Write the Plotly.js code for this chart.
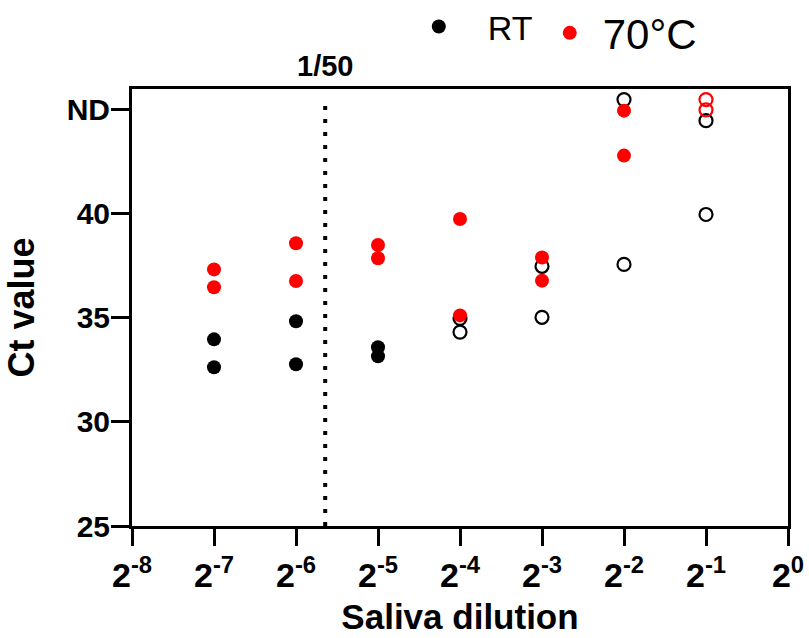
<!DOCTYPE html>
<html>
<head>
<meta charset="utf-8">
<script src="https://cdn.plot.ly/plotly-3.0.1.min.js"></script>
<style>html,body{margin:0;padding:0;background:#fff;}#chart{width:809px;height:638px;}</style>
</head>
<body>
<div id="chart"></div>
<script>
// log2 of saliva dilution
var xTickVals = [-8, -7, -6, -5, -4, -3, -2, -1, 0];
var xTickText = ['2<sup>-8</sup>', '2<sup>-7</sup>', '2<sup>-6</sup>', '2<sup>-5</sup>', '2<sup>-4</sup>', '2<sup>-3</sup>', '2<sup>-2</sup>', '2<sup>-1</sup>', '2<sup>0</sup>'];
var yTickVals = [25, 30, 35, 40, 45];
var yTickText = ['25', '30', '35', '40', 'ND'];

// RT, detected (filled)
var rtFilledX = [-7, -7, -6, -6, -5, -5];
var rtFilledY = [33.97, 32.63, 34.84, 32.77, 33.59, 33.16];
// RT, open symbols
var rtOpenX = [-4, -4, -3, -3, -2, -2, -1, -1];
var rtOpenY = [34.98, 34.32, 37.48, 35.03, 45.49, 37.57, 44.48, 39.97];
// 70°C, detected (filled)
var hotFilledX = [-7, -7, -6, -6, -5, -5, -4, -4, -3, -3, -2, -2];
var hotFilledY = [37.33, 36.47, 38.59, 36.77, 38.5, 37.87, 39.75, 35.12, 37.9, 36.79, 44.96, 42.8];
// 70°C, open symbols
var hotOpenX = [-1, -1];
var hotOpenY = [45.49, 45.0];

var cutoffDilution = 1 / 50;
var cutoffLabel = '1/50';

var FONT = 'Liberation Sans, Arial, sans-serif';

var traces = [
  {x: rtFilledX, y: rtFilledY, type: 'scatter', mode: 'markers', name: 'RT', legend: 'legend',
   marker: {color: '#000000', size: 14, symbol: 'circle'}, showlegend: true},
  {x: rtOpenX, y: rtOpenY, type: 'scatter', mode: 'markers', name: 'RT open', showlegend: false,
   marker: {color: '#000000', size: 13, symbol: 'circle-open', line: {width: 2.2, color: '#000000'}}},
  {x: hotFilledX, y: hotFilledY, type: 'scatter', mode: 'markers', name: '70°C', legend: 'legend2',
   marker: {color: '#ff0000', size: 14, symbol: 'circle'}, showlegend: true},
  {x: hotOpenX, y: hotOpenY, type: 'scatter', mode: 'markers', name: '70°C open', showlegend: false,
   marker: {color: '#ff0000', size: 13, symbol: 'circle-open', line: {width: 2.2, color: '#ff0000'}}}
];

var cutX = Math.log2(cutoffDilution);

var layout = {
  width: 809, height: 638,
  margin: {l: 132, r: 21, t: 89, b: 112, autoexpand: false},
  paper_bgcolor: '#ffffff', plot_bgcolor: '#ffffff',
  font: {family: FONT, color: '#000000'},
  xaxis: {
    range: [-8, 0], tickvals: xTickVals, ticktext: xTickText,
    showgrid: false, zeroline: false,
    showline: true, linewidth: 3, linecolor: '#000', mirror: true,
    ticks: 'outside', ticklen: 17, tickwidth: 3, tickcolor: '#000',
    tickfont: {family: FONT, size: 34, weight: 'bold'},
    title: {text: 'Saliva dilution', font: {family: FONT, size: 35, weight: 'bold'}, standoff: 12}
  },
  yaxis: {
    range: [25, 46], tickvals: yTickVals, ticktext: yTickText,
    showgrid: false, zeroline: false,
    showline: true, linewidth: 3, linecolor: '#000', mirror: true,
    ticks: 'outside', ticklen: 18, tickwidth: 3, tickcolor: '#000',
    ticklabelstandoff: -5,
    tickfont: {family: FONT, size: 30, weight: 'bold'},
    title: {text: 'Ct value', font: {family: FONT, size: 36, weight: 'bold'}, standoff: 22}
  },
  legend: {
    x: 0.393, xanchor: 'left', y: 1.142, yanchor: 'middle', orientation: 'h',
    itemwidth: 88, font: {family: FONT, size: 34}, bgcolor: 'rgba(0,0,0,0)'
  },
  legend2: {
    x: 0.617, xanchor: 'left', y: 1.128, yanchor: 'middle', orientation: 'h',
    itemwidth: 56, font: {family: FONT, size: 42}, bgcolor: 'rgba(0,0,0,0)'
  },
  shapes: [
    {type: 'line', xref: 'x', yref: 'y', x0: cutX, x1: cutX, y0: 25, y1: 45.6,
     line: {color: '#000', width: 4, dash: '4px,9px'}}
  ],
  annotations: [
    {xref: 'x', yref: 'paper', x: cutX, y: 1, yshift: 5, yanchor: 'bottom', text: cutoffLabel, showarrow: false,
     font: {family: FONT, size: 29, weight: 'bold'}}
  ]
};

Plotly.newPlot('chart', traces, layout, {displayModeBar: false, staticPlot: true});
</script>
</body>
</html>
